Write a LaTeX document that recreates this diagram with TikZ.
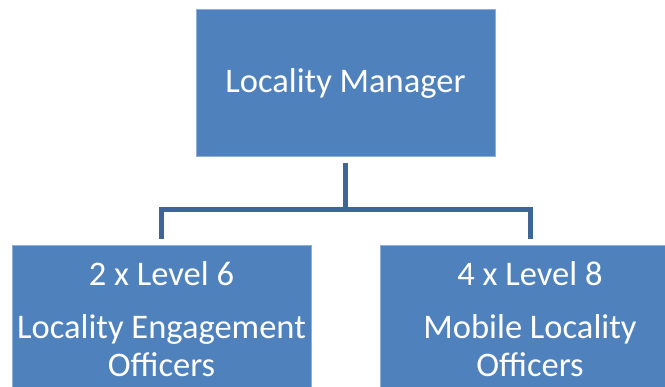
\documentclass[tikz,border=0pt]{standalone}
\usepackage{fontspec}
\setmainfont{Carlito}
\usetikzlibrary{positioning}
\definecolor{unitblue}{HTML}{4F81BD}
\definecolor{unitedge}{HTML}{8FAEDA}
\definecolor{linkblue}{HTML}{3D6597}
\tikzset{
  unit/.style={draw=unitedge,line width=0.8pt,fill=unitblue,text=white,
    minimum width=299pt,minimum height=147pt,inner sep=0pt,align=center,
    font=\fontsize{34.5}{38}\selectfont},
  link/.style={draw=linkblue,line width=5pt,shorten <=6pt,shorten >=6pt}
}
\begin{document}
\begin{tikzpicture}[x=1pt,y=-1pt]
\useasboundingbox (0,0) rectangle (665,387);
\clip (0,0) rectangle (665,387);

\node[unit] (manager) at (345.5,83) {Locality Manager};
\node[unit] (engage) at (161.5,319) {2 x Level 6\\[15pt]Locality Engagement\\Officers};
\node[unit] (mobile) at (530,319) {4 x Level 8\\[15pt]Mobile Locality\\Officers};

\coordinate (bus) at (345.5,210);
\draw[link] (manager.south) -- (bus) -| (engage.north);
\draw[link,shorten <=0pt] (bus) -| (mobile.north);
\end{tikzpicture}
\end{document}
